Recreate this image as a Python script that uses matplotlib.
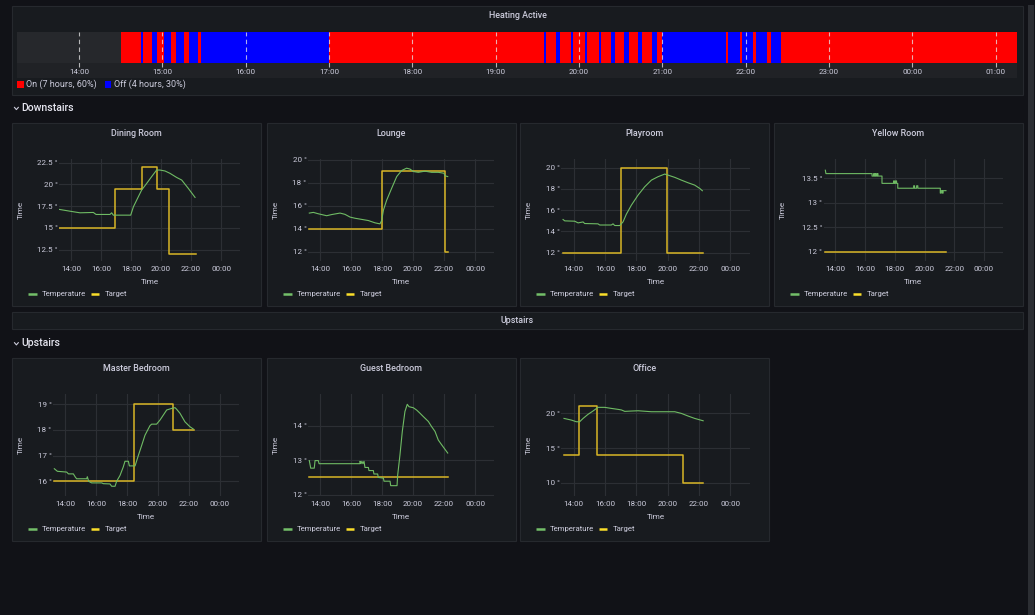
import matplotlib
matplotlib.use("Agg")
import matplotlib.pyplot as plt
from matplotlib.patches import Rectangle

plt.rcParams['font.family'] = ['Roboto', 'DejaVu Sans']

W, H = 1035, 615
BG = '#111217'
PANEL = '#181b1f'
BORDER = '#26292e'
TEXT = '#ccccdc'
GRID = '#2c2f34'
GREEN = '#6fbb64'
YELLOW = '#d9b626'

# time axis shared by all panels (hours, 25 = 01:00 next day)
t_start, t_end = 13.22, 25.25
heat_start, heat_end = 13.256, 25.256
hour_ticks = [14, 15, 16, 17, 18, 19, 20, 21, 22, 23, 24, 25]
hour_labels = ['14:00', '15:00', '16:00', '17:00', '18:00', '19:00', '20:00',
               '21:00', '22:00', '23:00', '00:00', '01:00']
room_ticks = [14, 16, 18, 20, 22, 24]
room_labels = ['14:00', '16:00', '18:00', '20:00', '22:00', '00:00']

# heating state changes (1 = on, 0 = off)
heat_change = [14.508, 14.748, 14.768, 14.876, 14.936, 15.016, 15.104, 15.164, 15.264,
               15.32, 15.432, 15.464, 17.0, 19.584, 19.604, 19.72, 19.768, 19.90,
               19.932, 20.076, 20.10, 20.24, 20.268, 20.38, 20.432, 20.54, 20.60,
               20.704, 20.76, 20.872, 20.932, 20.992, 21.764, 21.792, 21.928, 21.956,
               22.092, 22.128, 22.26, 22.308, 22.42]
heat_state = [1, 0, 1, 0, 1, 0, 1, 0, 1, 0, 1, 0, 1, 0, 1, 0, 1, 0, 1, 0, 1,
              0, 1, 0, 1, 0, 1, 0, 1, 0, 1, 0, 1, 0, 1, 0, 1, 0, 1, 0, 1]
heat_legend = ['On (7 hours, 60%)', 'Off (4 hours, 30%)']

# Dining Room
dining_t = [13.22, 14.16, 14.6, 15.49, 15.67, 16.6, 16.71, 16.82, 17.98, 18.16, 18.49,
            18.71, 19.04, 19.38, 19.71, 19.93, 20.27, 20.6, 21.04, 21.38, 21.82, 22.27]
dining_temp = [17.12, 16.85, 16.73, 16.77, 16.54, 16.54, 16.73, 16.46, 16.46, 17.42, 18.58,
               19.35, 20.1, 20.9, 21.65, 21.65, 21.54, 21.27, 20.8, 20.5, 19.54, 18.5]
dining_tgt_t = [13.22, 16.96, 18.73, 19.72, 20.51, 22.3]
dining_tgt = [15, 19.5, 22, 19.5, 12, 12]

# Lounge
lounge_t = [13.31, 13.57, 13.89, 14.43, 14.75, 15.29, 15.61, 15.94, 16.26, 16.69, 17.12,
            17.55, 17.87, 17.98, 18.09, 18.3, 18.62, 18.95, 19.27, 19.59, 19.81, 20.02,
            20.34, 20.77, 21.2, 21.63, 22.0, 22.06, 22.24]
lounge_temp = [15.35, 15.41, 15.29, 15.12, 15.22, 15.35, 15.24, 15.0, 14.9, 14.8, 14.7,
               14.5, 14.41, 14.7, 15.6, 16.47, 17.5, 18.53, 19.06, 19.26, 19.18, 18.97,
               18.9, 19.0, 18.9, 18.9, 18.82, 18.6, 18.53]
lounge_tgt_t = [13.31, 17.98, 22.06, 22.24]
lounge_tgt = [14, 19, 12, 12]

# Playroom
play_t = [13.32, 13.43, 14.06, 14.28, 14.6, 14.7, 15.55, 15.66, 16.4, 16.51, 16.62, 16.94,
          17.15, 17.36, 17.68, 18.11, 18.53, 18.96, 19.38, 19.81, 20.02, 20.45, 20.87,
          21.3, 21.72, 22.04, 22.21]
play_temp = [15.12, 14.99, 14.96, 14.8, 14.89, 14.74, 14.71, 14.6, 14.6, 14.71, 14.55,
             14.55, 14.9, 15.62, 16.47, 17.42, 18.2, 18.83, 19.15, 19.4, 19.3, 19.09,
             18.83, 18.58, 18.36, 18.05, 17.83]
play_tgt_t = [13.32, 17.0, 19.94, 22.26]
play_tgt = [12, 20, 12, 12]

# Yellow Room
yellow_t = [13.33, 13.37, 16.47, 16.47, 16.58, 16.58, 16.63, 16.63, 16.7, 16.7, 16.75,
            16.75, 16.82, 16.82, 16.87, 16.87, 17.14, 17.14, 17.92, 17.92, 17.98, 17.98,
            18.05, 18.05, 18.12, 18.12, 18.2, 18.2, 19.27, 19.27, 19.33, 19.33, 19.47,
            19.47, 19.55, 19.55, 21.06, 21.06, 21.12, 21.12, 21.2, 21.2, 21.25, 21.25, 21.44]
yellow_temp = [13.67, 13.6, 13.6, 13.55, 13.55, 13.6, 13.6, 13.55, 13.55, 13.6, 13.6,
               13.55, 13.55, 13.6, 13.6, 13.55, 13.55, 13.4, 13.4, 13.45, 13.45, 13.4,
               13.4, 13.45, 13.45, 13.4, 13.4, 13.3, 13.3, 13.35, 13.35, 13.3, 13.3,
               13.35, 13.35, 13.3, 13.3, 13.2, 13.2, 13.25, 13.25, 13.2, 13.2, 13.25, 13.25]
yellow_tgt_t = [13.33, 21.44]
yellow_tgt = [12, 12]

# Master Bedroom
master_t = [13.31, 13.51, 14.11, 14.22, 14.54, 14.65, 14.75, 15.4, 15.44, 15.53, 15.72,
            16.37, 16.47, 16.9, 17.01, 17.23, 17.33, 17.55, 17.76, 17.87, 18.09, 18.15,
            18.52, 18.73, 18.95, 19.16, 19.48, 19.59, 19.91, 20.13, 20.34, 20.56, 20.88,
            21.1, 21.2, 21.42, 21.74, 22.06, 22.28]
master_temp = [16.49, 16.39, 16.36, 16.29, 16.29, 16.18, 16.1, 16.1, 16.18, 16.0, 15.94,
               15.94, 15.91, 15.9, 15.81, 15.81, 16.0, 16.23, 16.56, 16.78, 16.78, 16.6,
               16.6, 17.0, 17.4, 17.79, 18.16, 18.22, 18.22, 18.38, 18.57, 18.77, 18.83,
               18.86, 18.8, 18.64, 18.31, 18.12, 18.03]
master_tgt_t = [13.31, 18.45, 20.99, 22.32]
master_tgt = [16, 19, 18, 18]

# Guest Bedroom
guest_t = [13.31, 13.4, 13.63, 13.68, 13.89, 13.94, 16.58, 16.58, 16.65, 16.7, 16.77,
           16.84, 16.9, 17.12, 17.16, 17.44, 17.48, 17.72, 17.76, 18.09, 18.13, 18.52,
           18.56, 18.97, 19.01, 19.16, 19.31, 19.48, 19.63, 19.74, 20.02, 20.24, 20.45,
           20.67, 20.99, 21.2, 21.42, 21.63, 21.85, 22.06, 22.24]
guest_temp = [12.99, 12.77, 12.77, 12.99, 12.99, 12.9, 12.9, 12.97, 12.9, 12.97, 12.9,
              12.97, 12.79, 12.79, 12.7, 12.7, 12.6, 12.6, 12.5, 12.48, 12.39, 12.39,
              12.26, 12.26, 12.56, 13.16, 13.84, 14.42, 14.63, 14.56, 14.53, 14.46, 14.37,
              14.27, 14.13, 13.98, 13.84, 13.59, 13.45, 13.32, 13.21]
guest_tgt_t = [13.31, 22.24]
guest_tgt = [12.5, 12.5]

# Office
office_t = [13.38, 13.85, 14.17, 14.38, 14.6, 14.91, 15.23, 15.55, 15.98, 16.4, 16.83,
            17.04, 17.26, 17.68, 18.11, 18.96, 19.81, 20.45, 20.87, 21.3, 21.72, 22.26]
office_temp = [19.28, 19.04, 18.8, 18.8, 19.28, 19.86, 20.34, 20.87, 20.87, 20.72, 20.58,
               20.5, 20.29, 20.34, 20.38, 20.24, 20.24, 20.24, 20.0, 19.62, 19.28, 18.94]
office_tgt_t = [13.38, 14.32, 15.47, 20.96, 22.26]
office_tgt = [14, 21, 14, 10, 10]

fig = plt.figure(figsize=(W / 100, H / 100), dpi=100, facecolor=BG)
bg = fig.add_axes([0, 0, 1, 1])
bg.set_xlim(0, W)
bg.set_ylim(H, 0)
bg.axis('off')


def px_axes(x0, y0, x1, y1):
    return fig.add_axes([x0 / W, 1 - y1 / H, (x1 - x0) / W, (y1 - y0) / H])


def panel(x0, y0, x1, y1, title, ty):
    bg.add_patch(Rectangle((x0, y0), x1 - x0, y1 - y0, facecolor=PANEL,
                           edgecolor=BORDER, lw=0.8))
    bg.text((x0 + x1) / 2, y0 + ty, title, ha='center', va='center', color=TEXT,
            fontsize=6.4, fontweight='medium')


def row_header(y, label):
    bg.plot([14.5, 16.4, 18.3], [y - 0.6, y + 1.6, y - 0.6], color=TEXT, lw=0.8)
    bg.text(21.5, y, label, ha='left', va='center', color='#e4e4ee', fontsize=7.6,
            fontweight='medium')


# scrollbar on the right
bg.add_patch(Rectangle((1028, 5), 6, 610, facecolor='#2c2e33', edgecolor='none'))

# ---- Heating Active ----
panel(12, 6, 1023, 94.5, 'Heating Active', 9.5)
x14_top, pph_top = 79, 83.33
hx0 = x14_top - (14 - heat_start) * pph_top
hx1 = x14_top + (heat_end - 14) * pph_top
bg.add_patch(Rectangle((hx0, 31.7), hx1 - hx0, 46.6, facecolor='#202226', edgecolor='none'))
hax = px_axes(hx0, 31.7, hx1, 62.7)
hax.set_facecolor('#26282c')
ends = heat_change[1:] + [heat_end]
for s, e, st in zip(heat_change, ends, heat_state):
    hax.broken_barh([(s, e - s)], (0, 1), facecolors='#ff0000' if st else '#0000ff',
                    edgecolor='none')
for h in hour_ticks:
    hax.axvline(h, ymin=-0.15, ymax=1, color='#e8e8e8', alpha=0.75, lw=0.8,
                ls=(0, (4, 3)), clip_on=False)
hax.set_xlim(heat_start, heat_end)
hax.set_ylim(0, 1)
hax.set_yticks([])
hax.set_xticks(hour_ticks)
hax.set_xticklabels(hour_labels)
hax.tick_params(axis='x', length=0, labelsize=5.8, colors=TEXT, pad=4.2)
for sp in hax.spines.values():
    sp.set_visible(False)

bg.add_patch(Rectangle((17.3, 81.2), 6.3, 6.3, facecolor='#ff0000', edgecolor='none'))
bg.text(26, 84.5, heat_legend[0], ha='left', va='center', color=TEXT, fontsize=6.5)
bg.add_patch(Rectangle((105, 81.2), 6.3, 6.3, facecolor='#0000ff', edgecolor='none'))
bg.text(113.5, 84.5, heat_legend[1], ha='left', va='center', color=TEXT, fontsize=6.5)

row_header(108, 'Downstairs')

# ---- Upstairs banner panel ----
panel(12, 311.5, 1023, 329.3, 'Upstairs', 9.3)
row_header(343.3, 'Upstairs')


def room(px, py, title, x14, pph, t, temp, tgt_t, tgt, yticks, ylim):
    panel(px, py, px + 249.5, py + 182.7, title, 10)
    x0 = x14 - (14 - t_start) * pph
    x1 = x14 + (t_end - 14) * pph
    ax = px_axes(x0, py + 35.7, x1, py + 138)
    ax.set_facecolor('none')
    ax.plot(tgt_t, tgt, color=YELLOW, lw=1.1, drawstyle='steps-post')
    ax.plot(t, temp, color=GREEN, lw=0.8)
    ax.set_xlim(t_start, t_end)
    ax.set_ylim(*ylim)
    ax.set_xticks(room_ticks)
    ax.set_xticklabels(room_labels)
    ax.set_yticks(yticks)
    ax.set_yticklabels([f'{v:g} °' for v in yticks])
    ax.tick_params(length=0, labelsize=5.8, colors=TEXT)
    ax.tick_params(axis='x', pad=3.5)
    ax.tick_params(axis='y', pad=1)
    ax.grid(True, color=GRID, lw=0.8)
    ax.set_axisbelow(True)
    for sp in ax.spines.values():
        sp.set_visible(False)
    bg.text((x0 + x1) / 2, py + 158.8, 'Time', ha='center', va='center', color=TEXT,
            fontsize=5.9)
    bg.text(px + 9.5, py + 87, 'Time', ha='center', va='center', color=TEXT,
            fontsize=5.9, rotation=90)
    ly = py + 171
    bg.plot([px + 16, px + 25], [ly, ly], color='#73bf69', lw=1.8,
            solid_capstyle='butt')
    bg.text(px + 30, ly, 'Temperature', ha='left', va='center', color=TEXT, fontsize=5.6)
    bg.plot([px + 79, px + 87.5], [ly, ly], color='#fade2a', lw=1.8,
            solid_capstyle='butt')
    bg.text(px + 93, ly, 'Target', ha='left', va='center', color=TEXT, fontsize=5.6)


room(11.5, 123.3, 'Dining Room', 71, 15.0, dining_t, dining_temp, dining_tgt_t,
     dining_tgt, [12.5, 15, 17.5, 20, 22.5], (11.15, 22.92))
room(266.5, 123.3, 'Lounge', 320, 15.5, lounge_t, lounge_temp, lounge_tgt_t,
     lounge_tgt, [12, 14, 16, 18, 20], (11.15, 20.06))
room(519.5, 123.3, 'Playroom', 573.7, 15.67, play_t, play_temp, play_tgt_t,
     play_tgt, [12, 14, 16, 18, 20], (11.18, 20.82))
room(773.5, 123.3, 'Yellow Room', 835.3, 14.87, yellow_t, yellow_temp, yellow_tgt_t,
     yellow_tgt, [12, 12.5, 13, 13.5], (11.8, 13.9))
room(11.5, 358.3, 'Master Bedroom', 65, 15.5, master_t, master_temp, master_tgt_t,
     master_tgt, [16, 17, 18, 19], (15.42, 19.39))
room(266.5, 358.3, 'Guest Bedroom', 320, 15.5, guest_t, guest_temp, guest_tgt_t,
     guest_tgt, [12, 13, 14], (11.95, 14.93))
room(519.5, 358.3, 'Office', 573.7, 15.67, office_t, office_temp, office_tgt_t,
     office_tgt, [10, 15, 20], (8.08, 22.79))

fig.savefig('out.png', dpi=100, facecolor=BG)
